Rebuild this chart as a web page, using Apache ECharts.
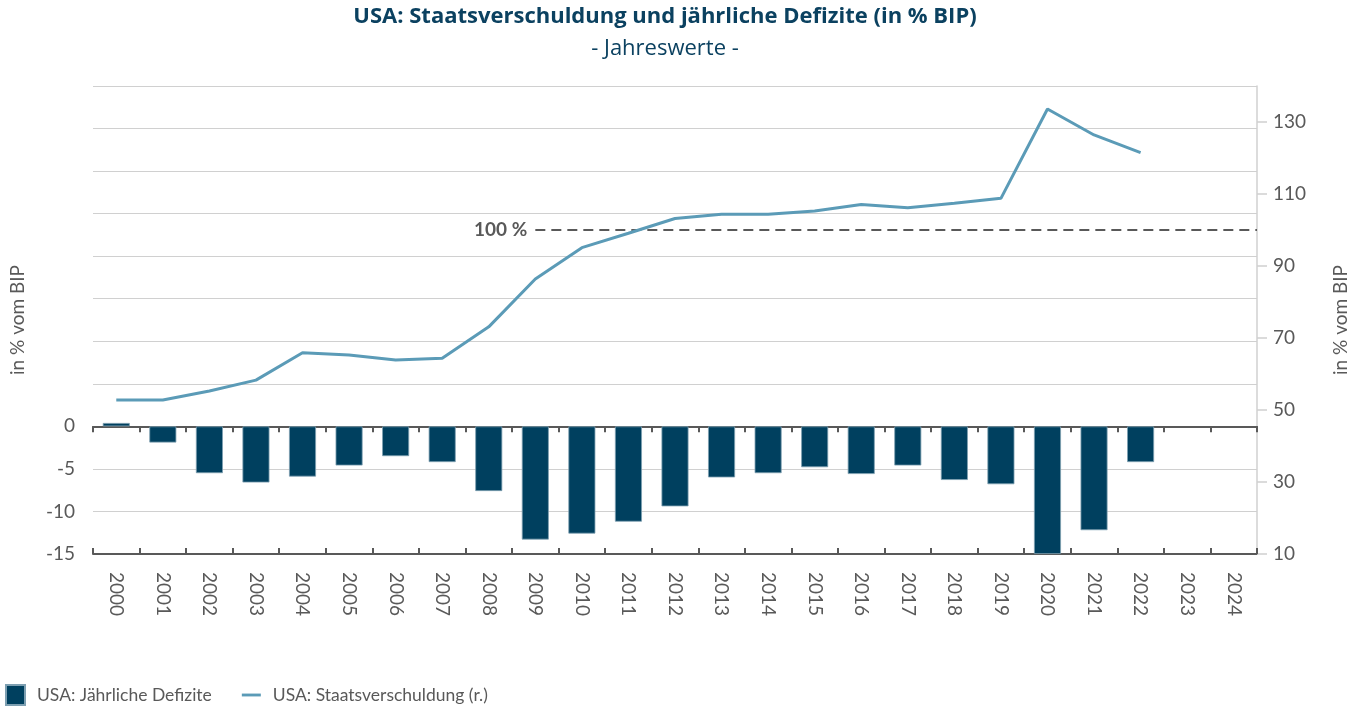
<!DOCTYPE html>
<html>
<head>
<meta charset="utf-8">
<script src="https://cdn.jsdelivr.net/npm/echarts@6/dist/echarts.min.js"></script>
<style>
html,body{margin:0;padding:0;background:#fff;}
#main{width:1360px;height:711px;}
</style>
</head>
<body>
<div id="main"></div>
<script>
const categories = ['2000','2001','2002','2003','2004','2005','2006','2007','2008','2009','2010','2011','2012','2013','2014','2015','2016','2017','2018','2019','2020','2021','2022','2023','2024'];
const deficits = [0.4, -1.9, -5.5, -6.6, -5.9, -4.6, -3.5, -4.2, -7.6, -13.3, -12.6, -11.2, -9.4, -6.0, -5.5, -4.8, -5.6, -4.6, -6.3, -6.8, -15.0, -12.2, -4.2, null, null];
const debt = [52.8, 52.8, 55.3, 58.3, 65.9, 65.3, 63.9, 64.4, 73.1, 86.4, 95.1, 99.1, 103.2, 104.4, 104.4, 105.3, 107.1, 106.2, 107.4, 108.8, 133.6, 126.4, 121.5, null, null];
const leftTickLabels = [-15, -10, -5, 0];
const rightTickLabels = [10, 30, 50, 70, 90, 110, 130];
const refValue = 100;
const refStartYear = '2009';
const refLabel = '100 %';
const seriesNames = ['USA: Jährliche Defizite', 'USA: Staatsverschuldung (r.)'];
const titleText = 'USA: Staatsverschuldung und jährliche Defizite (in % BIP)';
const subtitleText = '- Jahreswerte -';
const axisName = 'in % vom BIP';

const FONT = 'Lato';
const TFONT = 'Open Sans';
const GRAY = '#595959';
const chart = echarts.init(document.getElementById('main'), null, {renderer: 'canvas'});

const refStart = categories.indexOf(refStartYear) + 0.5;

chart.setOption({
  animation: false,
  backgroundColor: '#fff',
  textStyle: {fontFamily: FONT},
  title: {
    text: titleText,
    subtext: subtitleText,
    left: 665,
    textAlign: 'center',
    top: 4,
    itemGap: 6,
    padding: 0,
    textStyle: {fontFamily: TFONT, fontSize: 22, fontWeight: 'bold', color: '#0b4160', lineHeight: 26},
    subtextStyle: {fontFamily: TFONT, fontSize: 22, color: '#0b4160', lineHeight: 26}
  },
  legend: {
    data: [
      {name: seriesNames[0], icon: 'rect'},
      {name: seriesNames[1], icon: 'path://M0,0L20,0L20,3L0,3Z'}
    ],
    left: 0,
    top: 679,
    itemWidth: 19,
    itemHeight: 20,
    itemGap: 30,
    symbolKeepAspect: true,
    textStyle: {fontFamily: FONT, fontSize: 17.5, color: GRAY, padding: [0, 0, 0, 7]}
  },
  grid: {left: 93, right: 103, top: 86, bottom: 157, containLabel: false},
  xAxis: [
    {
      type: 'category',
      data: categories,
      position: 'bottom',
      axisLine: {onZero: true, lineStyle: {color: GRAY, width: 2}},
      axisTick: {show: true, inside: false, length: 6, lineStyle: {color: GRAY, width: 2}},
      axisLabel: {show: false},
      splitLine: {show: false}
    },
    {
      type: 'category',
      data: categories,
      position: 'bottom',
      axisLine: {onZero: false, lineStyle: {color: GRAY, width: 2}},
      axisTick: {show: true, inside: true, length: 6, lineStyle: {color: GRAY, width: 2}},
      axisLabel: {show: true, rotate: -90, margin: 18, fontSize: 19, color: GRAY, fontFamily: FONT},
      splitLine: {show: false}
    },
    {
      type: 'value',
      min: 0,
      max: categories.length,
      show: false
    }
  ],
  yAxis: [
    {
      type: 'value',
      position: 'left',
      min: -15,
      max: 40,
      interval: 5,
      name: axisName,
      nameLocation: 'middle',
      nameRotate: 90,
      nameGap: 66,
      nameTextStyle: {fontFamily: FONT, fontSize: 19, color: GRAY},
      axisLine: {show: false},
      axisTick: {show: false},
      axisLabel: {
        fontSize: 19, color: GRAY, margin: 18, fontFamily: FONT,
        formatter: v => leftTickLabels.indexOf(v) >= 0 ? String(v) : ''
      },
      splitLine: {show: true, lineStyle: {color: '#d0d0d0', width: 1}}
    },
    {
      type: 'value',
      position: 'right',
      min: 10,
      max: 140,
      interval: 20,
      name: axisName,
      nameLocation: 'middle',
      nameRotate: 90,
      nameGap: 74,
      nameTextStyle: {fontFamily: FONT, fontSize: 19, color: GRAY},
      axisLine: {show: true, lineStyle: {color: '#d0d0d0', width: 1.5}},
      axisTick: {show: true, inside: false, length: 10, lineStyle: {color: '#d0d0d0', width: 1.5}, customValues: rightTickLabels},
      axisLabel: {fontSize: 19, color: GRAY, margin: 16, fontFamily: FONT, customValues: rightTickLabels},
      splitLine: {show: false}
    }
  ],
  series: [
    {
      name: seriesNames[0],
      type: 'bar',
      xAxisIndex: 0,
      yAxisIndex: 0,
      data: deficits,
      barWidth: 27,
      itemStyle: {color: '#00405f', borderColor: '#7d9fb1', borderWidth: 0.8}
    },
    {
      name: seriesNames[1],
      type: 'line',
      xAxisIndex: 0,
      yAxisIndex: 1,
      data: debt,
      symbol: 'none',
      connectNulls: false,
      lineStyle: {color: '#5b9bb7', width: 3},
      itemStyle: {color: '#5b9bb7'},
      z: 5
    },
    {
      name: 'ref',
      type: 'line',
      xAxisIndex: 2,
      yAxisIndex: 1,
      data: [],
      symbol: 'none',
      markLine: {
        silent: true,
        symbol: ['none', 'none'],
        lineStyle: {color: GRAY, width: 2, type: [10, 6]},
        label: {
          show: true, position: 'start', distance: 8,
          formatter: refLabel, color: GRAY, fontWeight: 'bold', fontSize: 19, fontFamily: FONT
        },
        data: [[{coord: [refStart, refValue]}, {coord: [categories.length, refValue]}]]
      }
    }
  ]
});
</script>
</body>
</html>
